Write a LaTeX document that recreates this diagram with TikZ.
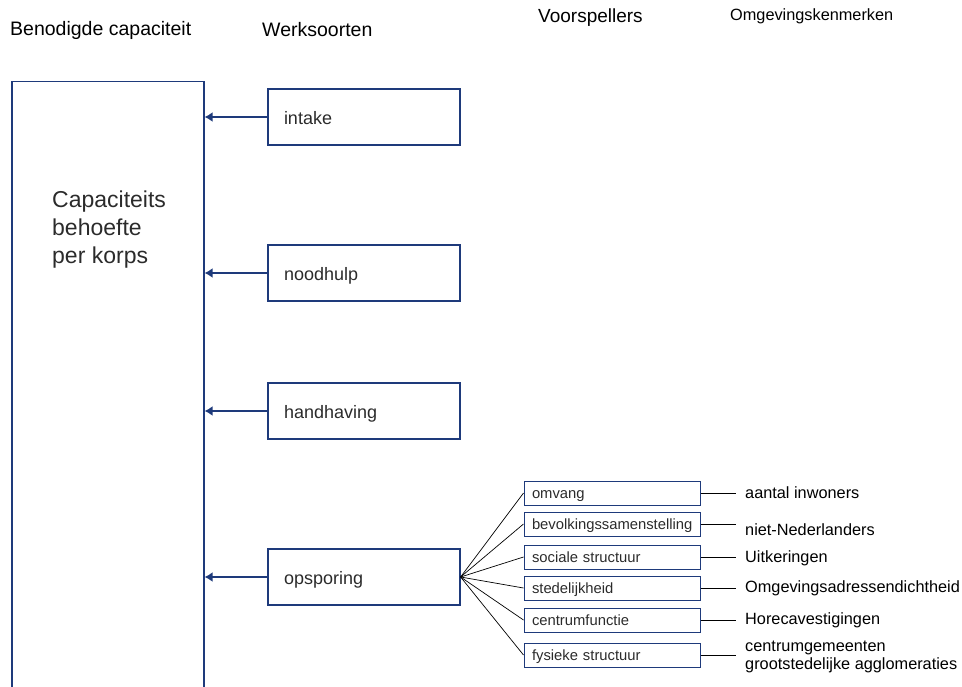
\documentclass[tikz,border=0pt]{standalone}
\usepackage{fontspec}
\setmainfont{Liberation Sans}
\usepackage{xcolor}
\usepackage{tikz}
\usetikzlibrary{arrows.meta}
\definecolor{navy}{HTML}{1E3A7B}
\definecolor{ink}{HTML}{2B2B2B}
\newcommand{\fs}[1]{\fontsize{#1}{1.15\dimexpr#1pt\relax}\selectfont}
\tikzset{
  bigbox/.style={draw=navy, line width=1.2pt, anchor=north, minimum width=192pt, minimum height=640pt},
  wbox/.style={draw=navy, line width=1.2pt, minimum width=192pt, minimum height=56pt,
    text width=160pt, align=left, inner xsep=16pt, text height=16pt, text depth=2pt,
    text=ink, font=\fs{18}},
  pbox/.style={draw=navy, line width=1pt, minimum width=176pt, minimum height=24pt,
    text width=160pt, align=left, inner xsep=8pt, inner ysep=0pt, text height=13pt, text depth=2pt,
    text=ink, font=\fs{14.8}},
  arr/.style={draw=navy, line width=2.6pt, -{Latex[length=8pt,width=10pt]}},
  fan/.style={draw=black, line width=0.7pt},
  tick/.style={draw=black, line width=0.9pt},
  head/.style={anchor=west, inner sep=0pt, text=black},
  lab/.style={anchor=west, inner sep=0pt, text=black, font=\fs{16.3}, align=left},
}

\begin{document}
\begin{tikzpicture}[x=1pt,y=-1pt]
  \clip (0,0) rectangle (962,686);

  % column heads
  \node[head, font=\fs{19.5}] (hcap) at (10,30) {Benodigde capaciteit};
  \node[head, font=\fs{19.5}] (hwerk) at (262,30) {Werksoorten};
  \node[head, font=\fs{19}] (hvoor) at (538,18) {Voorspellers};
  \node[head, font=\fs{16.3}] (homg) at (730,16) {Omgevingskenmerken};

  % capacity box, open at the bottom of the page
  \node[bigbox] (need) at (108,81) {};
  \node[anchor=base west, inner sep=0pt, align=left, text=ink,
        font=\fontsize{23}{28}\selectfont] (needtxt) at (52,263)
        {Capaciteits\\behoefte\\per korps};

  % work types
  \node[wbox] (intake) at (364,117) {intake};
  \node[wbox] (nood) at (364,273) {noodhulp};
  \node[wbox] (hand) at (364,411) {handhaving};
  \node[wbox] (opsp) at (364,577) {opsporing};

  \draw[arr] (intake.west) -- (intake.west -| need.east);
  \draw[arr] (nood.west) -- (nood.west -| need.east);
  \draw[arr] (hand.west) -- (hand.west -| need.east);
  \draw[arr] (opsp.west) -- (opsp.west -| need.east);

  % predictors
  \node[pbox] (omv) at (612,493) {omvang};
  \node[pbox] (bev) at (612,524) {bevolkingssamenstelling};
  \node[pbox] (soc) at (612,557) {sociale structuur};
  \node[pbox] (sted) at (612,588) {stedelijkheid};
  \node[pbox] (cent) at (612,620) {centrumfunctie};
  \node[pbox] (fys) at (612,655) {fysieke structuur};

  \draw[fan] (opsp.east) -- (omv.west);
  \draw[fan] (opsp.east) -- (bev.west);
  \draw[fan] (opsp.east) -- (soc.west);
  \draw[fan] (opsp.east) -- (sted.west);
  \draw[fan] (opsp.east) -- (cent.west);
  \draw[fan] (opsp.east) -- (fys.west);

  % environment features
  \draw[tick] (omv.east) -- ++(35,0);
  \draw[tick] (bev.east) -- ++(35,0);
  \draw[tick] (soc.east) -- ++(35,0);
  \draw[tick] (sted.east) -- ++(35,0);
  \draw[tick] (cent.east) -- ++(35,0);
  \draw[tick] (fys.east) -- ++(35,0);

  \node[lab] (k1) at (745,493) {aantal inwoners};
  \node[lab] (k2) at (745,530) {niet-Nederlanders};
  \node[lab] (k3) at (745,558) {Uitkeringen};
  \node[lab] (k4) at (745,588) {Omgevingsadressendichtheid};
  \node[lab] (k5) at (745,620) {Horecavestigingen};
  \node[lab, font=\fontsize{16.3}{18}\selectfont] (k6) at (745,657)
        {centrumgemeenten\\grootstedelijke agglomeraties};
\end{tikzpicture}
\end{document}
